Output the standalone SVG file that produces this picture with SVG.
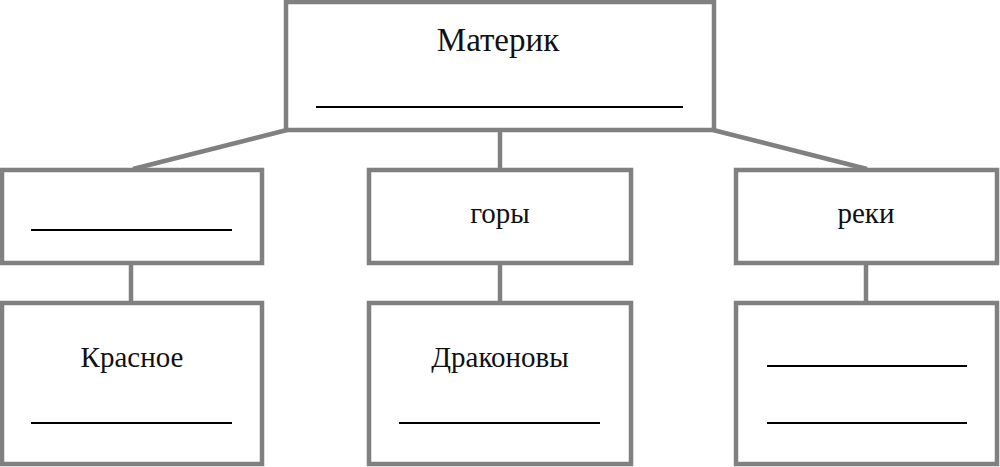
<svg xmlns="http://www.w3.org/2000/svg" width="1000" height="467" viewBox="0 0 1000 467">
  <style>
    .box { fill: #ffffff; stroke: #808080; stroke-width: 4.5; }
    .conn { stroke: #808080; stroke-width: 4.5; fill: none; }
    .blank { stroke: #000000; stroke-width: 2; }
    .lbl { font-family: "Liberation Serif", "Times New Roman", serif; font-size: 29px; fill: #111111; text-anchor: middle; }
    .title { font-size: 33px; }
  </style>
  <rect x="0" y="0" width="1000" height="467" fill="#ffffff"/>
  <g id="connectors">
    <line class="conn" x1="287" y1="130" x2="133" y2="169"/>
    <line class="conn" x1="500" y1="130" x2="500" y2="170"/>
    <line class="conn" x1="713" y1="130" x2="867" y2="169"/>
    <line class="conn" x1="131" y1="263" x2="131" y2="303"/>
    <line class="conn" x1="500" y1="263" x2="500" y2="303"/>
    <line class="conn" x1="866" y1="263" x2="866" y2="303"/>
  </g>
  <g id="node-root">
    <rect class="box" x="286" y="2" width="428" height="128"/>
    <text class="lbl title" x="498" y="51">Материк</text>
    <line class="blank" x1="316" y1="107" x2="683" y2="107"/>
  </g>
  <g id="node-mid-left">
    <rect class="box" x="2" y="170" width="260" height="93"/>
    <line class="blank" x1="31" y1="230" x2="232" y2="230"/>
  </g>
  <g id="node-mid-center">
    <rect class="box" x="369" y="170" width="262" height="93"/>
    <text class="lbl" x="500" y="223">горы</text>
  </g>
  <g id="node-mid-right">
    <rect class="box" x="736" y="170" width="261" height="93"/>
    <text class="lbl" x="866" y="223">реки</text>
  </g>
  <g id="node-bottom-left">
    <rect class="box" x="2" y="303" width="260" height="161"/>
    <text class="lbl" x="132" y="367">Красное</text>
    <line class="blank" x1="31" y1="423" x2="232" y2="423"/>
  </g>
  <g id="node-bottom-center">
    <rect class="box" x="369" y="303" width="262" height="161"/>
    <text class="lbl" x="500" y="367">Драконовы</text>
    <line class="blank" x1="399" y1="423" x2="600" y2="423"/>
  </g>
  <g id="node-bottom-right">
    <rect class="box" x="736" y="303" width="261" height="161"/>
    <line class="blank" x1="767" y1="366" x2="967" y2="366"/>
    <line class="blank" x1="767" y1="423" x2="967" y2="423"/>
  </g>
</svg>
